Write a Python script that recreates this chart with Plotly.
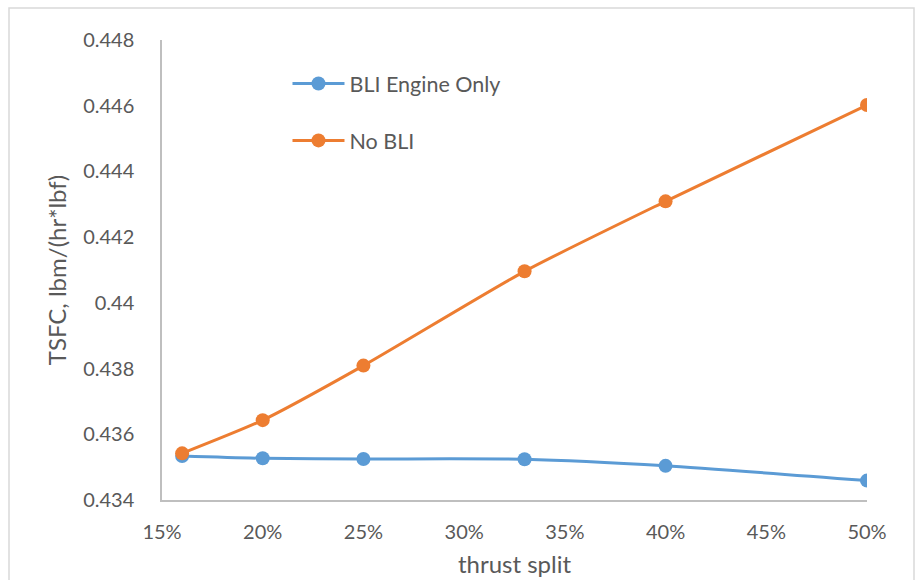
import plotly.graph_objects as go

# Thrust split (%) and TSFC values, lbm/(hr*lbf)
thrust_split = [16, 20, 25, 33, 40, 50]
tsfc_bli_engine_only = [0.43534, 0.43527, 0.43525, 0.43524, 0.43504, 0.43459]
tsfc_no_bli = [0.43542, 0.43643, 0.43809, 0.44096, 0.44309, 0.44602]

x_ticks = [15, 20, 25, 30, 35, 40, 45, 50]
x_tick_labels = ["15%", "20%", "25%", "30%", "35%", "40%", "45%", "50%"]
y_ticks = [0.434, 0.436, 0.438, 0.44, 0.442, 0.444, 0.446, 0.448]
y_tick_labels = ["0.434", "0.436", "0.438", "0.44", "0.442", "0.444", "0.446", "0.448"]

BLUE = "#5b9bd5"
ORANGE = "#ed7d31"
TEXT = "#595959"
FONT = "Lato, Carlito, Calibri, sans-serif"

fig = go.Figure()
fig.add_trace(go.Scatter(
    x=thrust_split, y=tsfc_bli_engine_only, name="BLI Engine Only",
    mode="lines+markers", legendgroup="a",
    line=dict(color=BLUE, width=3, shape="spline", smoothing=0.6),
    marker=dict(color=BLUE, size=14),
))
fig.add_trace(go.Scatter(
    x=thrust_split, y=tsfc_no_bli, name="No BLI",
    mode="lines+markers", legendgroup="b",
    line=dict(color=ORANGE, width=3, shape="spline", smoothing=0.6),
    marker=dict(color=ORANGE, size=14),
))

L, R, T, B = 162, 48, 40, 80
W, H = 915, 580
pw, ph = W - L - R, H - T - B

fig.update_layout(
    width=W, height=H,
    margin=dict(l=L, r=R, t=T, b=B),
    paper_bgcolor="white", plot_bgcolor="white",
    font=dict(family=FONT, size=20, color=TEXT),
    showlegend=True,
    legend=dict(
        x=0.178, y=0.95, xanchor="left", yanchor="top",
        bgcolor="rgba(0,0,0,0)", font=dict(size=21.5, color=TEXT),
        tracegroupgap=26, itemwidth=52,
    ),
    xaxis=dict(
        range=[15, 50], tickvals=x_ticks, ticktext=x_tick_labels,
        showgrid=False, zeroline=False, automargin=False,
        showline=True, linecolor="#bfbfbf", linewidth=1.5,
        ticks="", ticklabelstandoff=13,
        title=dict(text="thrust split", font=dict(size=24, color=TEXT), standoff=14),
    ),
    yaxis=dict(
        range=[0.434, 0.448], tickvals=y_ticks, ticktext=y_tick_labels,
        showgrid=False, zeroline=False, automargin=False,
        showline=True, linecolor="#bfbfbf", linewidth=1.5,
        ticks="", ticklabelstandoff=22,
        title=dict(text="TSFC, lbm/(hr*lbf)", font=dict(size=24, color=TEXT), standoff=10),
    ),
    shapes=[dict(
        type="rect", xref="paper", yref="paper", layer="below",
        x0=(9 - L) / pw, x1=(914 - L) / pw,
        y0=-(B + 10) / ph, y1=(H - 8 - B) / ph,
        line=dict(color="#d9d9d9", width=1.5),
    )],
)

fig.write_html("out.html")
